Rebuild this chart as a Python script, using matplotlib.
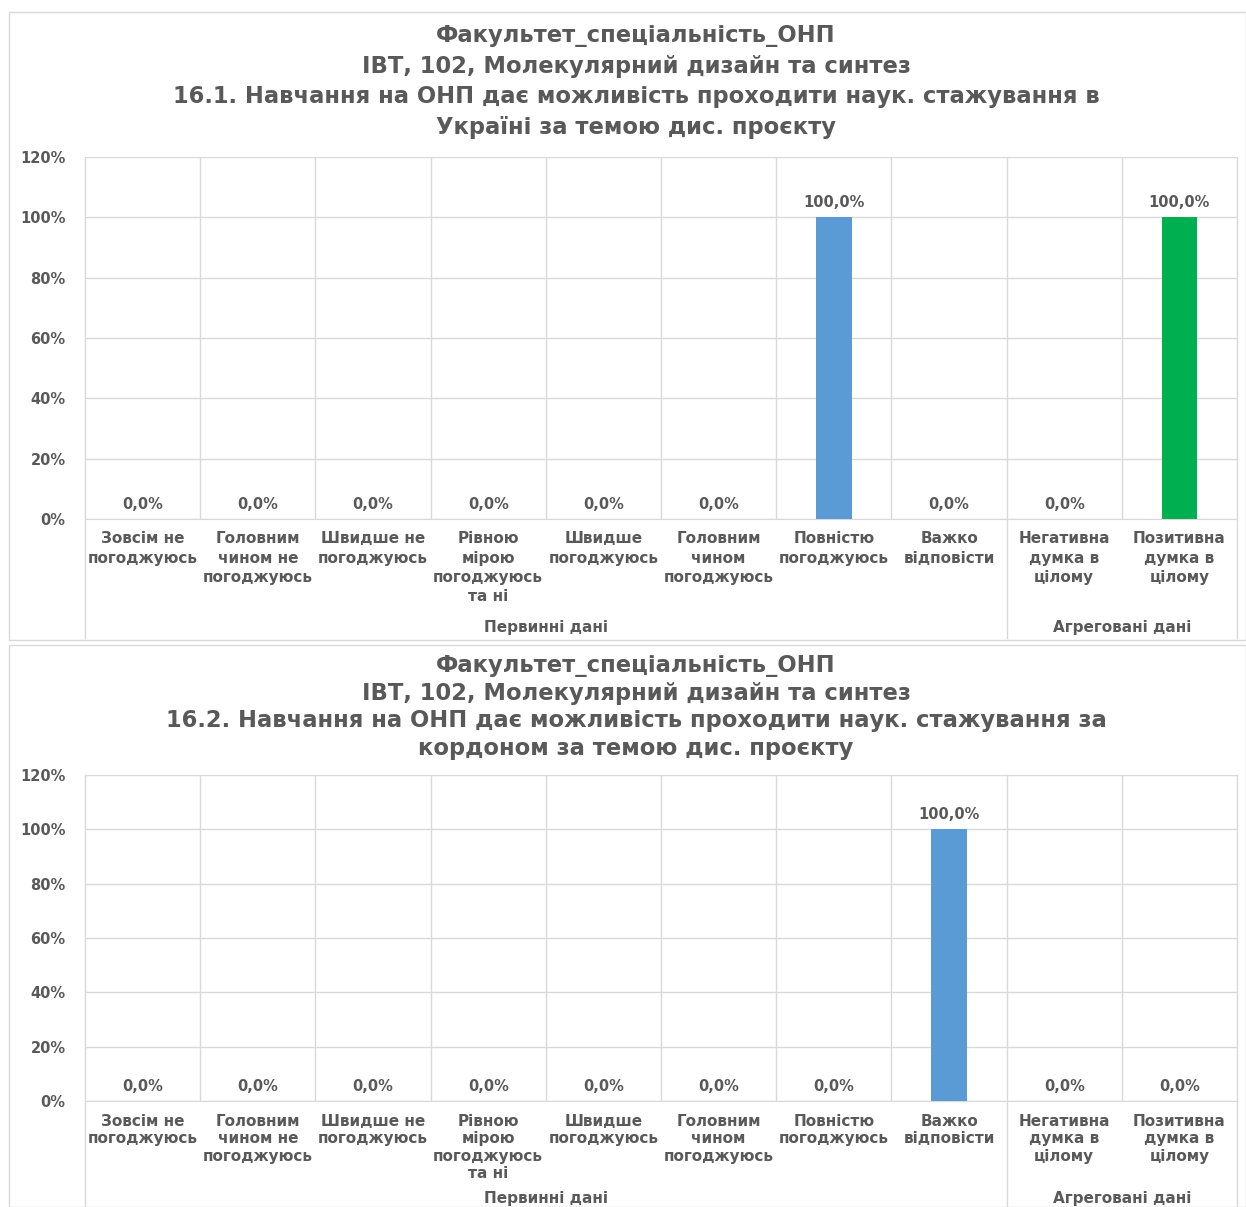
import matplotlib
matplotlib.use("Agg")
from matplotlib import pyplot as plt
from matplotlib.patches import Rectangle

plt.rcParams['font.family'] = ['DejaVu Sans']
plt.rcParams['font.weight'] = 'bold'

GREY = '#595959'
GRID = '#d9d9d9'

categories = [
    "Зовсім не\nпогоджуюсь",
    "Головним\nчином не\nпогоджуюсь",
    "Швидше не\nпогоджуюсь",
    "Рівною\nмірою\nпогоджуюсь\nта ні",
    "Швидше\nпогоджуюсь",
    "Головним\nчином\nпогоджуюсь",
    "Повністю\nпогоджуюсь",
    "Важко\nвідповісти",
    "Негативна\nдумка в\nцілому",
    "Позитивна\nдумка в\nцілому",
]
groups = ["Первинні дані", "Агреговані дані"]
group_sizes = [8, 2]

values_1 = [0, 0, 0, 0, 0, 0, 100, 0, 0, 100]
values_2 = [0, 0, 0, 0, 0, 0, 0, 100, 0, 0]
bar_colors = ['#5B9BD5'] * 8 + ['#00B050'] * 2

title_1 = ("Факультет_спеціальність_ОНП\n"
           "ІВТ, 102, Молекулярний дизайн та синтез\n"
           "16.1. Навчання на ОНП дає можливість проходити наук. стажування в\n"
           "Україні за темою дис. проєкту")
title_2 = ("Факультет_спеціальність_ОНП\n"
           "ІВТ, 102, Молекулярний дизайн та синтез\n"
           "16.2. Навчання на ОНП дає можливість проходити наук. стажування за\n"
           "кордоном за темою дис. проєкту")

W, H = 1246, 1207
fig = plt.figure(figsize=(W / 100, H / 100), dpi=100)

# рамки діаграм
for (y0, y1) in [(12, 640), (645, 1207)]:
    fig.patches.append(Rectangle((9 / W, 1 - y1 / H), (W - 9) / W, (y1 - y0) / H,
                                 transform=fig.transFigure, fill=False,
                                 edgecolor=GRID, linewidth=1))


def draw_chart(rect, values, title, title_y, title_ls, cat_ls, ext):
    ax = fig.add_axes(rect)
    n = len(values)
    x = list(range(n))
    bars = ax.bar(x, values, width=0.31, color=bar_colors, zorder=3)
    for b, v in zip(bars, values):
        ax.annotate(f"{v:.1f}%".replace('.', ','), (b.get_x() + b.get_width() / 2, v),
                    xytext=(0, 5), textcoords='offset points', ha='center', va='bottom',
                    fontsize=10.5, color=GREY, fontweight='bold')
    ax.set_xlim(-0.5, n - 0.5)
    ax.set_ylim(0, 120)
    ax.set_yticks(range(0, 121, 20))
    ax.set_yticklabels([f"{t}%" for t in range(0, 121, 20)])
    ax.grid(axis='y', color=GRID, linewidth=1, zorder=0)
    for b in range(n + 1):
        xb = b - 0.5
        if b in (0, group_sizes[0], n):
            ax.axvline(xb, ymin=-ext, ymax=1, color=GRID, linewidth=1, clip_on=False, zorder=1)
        else:
            ax.axvline(xb, color=GRID, linewidth=1, zorder=1)
    ax.set_xticks(x)
    ax.set_xticklabels(categories, fontsize=11, color=GREY, linespacing=cat_ls)
    ax.tick_params(axis='both', length=0, colors=GREY)
    ax.tick_params(axis='x', pad=9, labelsize=11)
    ax.tick_params(axis='y', pad=14, labelsize=10.5)
    for s in ['top', 'right', 'left']:
        ax.spines[s].set_visible(False)
    ax.spines['bottom'].set_color(GRID)
    start = 0
    for g, size in zip(groups, group_sizes):
        ax.text(start + (size - 1) / 2, -0.30, g, transform=ax.get_xaxis_transform(),
                ha='center', va='center', fontsize=11, color=GREY, fontweight='bold')
        start += size
    fig.text(636 / W, title_y, title, ha='center', va='center', fontsize=16.3,
             color=GREY, fontweight='bold', linespacing=title_ls)
    return ax


draw_chart([85 / W, 1 - 519 / H, (1237 - 85) / W, (519 - 157) / H],
           values_1, title_1, 1 - 81.5 / H, 1.44, 1.36, 0.33)
draw_chart([85 / W, 1 - 1101 / H, (1237 - 85) / W, (1101 - 775) / H],
           values_2, title_2, 1 - 707 / H, 1.27, 1.22, 0.4)

fig.savefig("out.png", dpi=100)
